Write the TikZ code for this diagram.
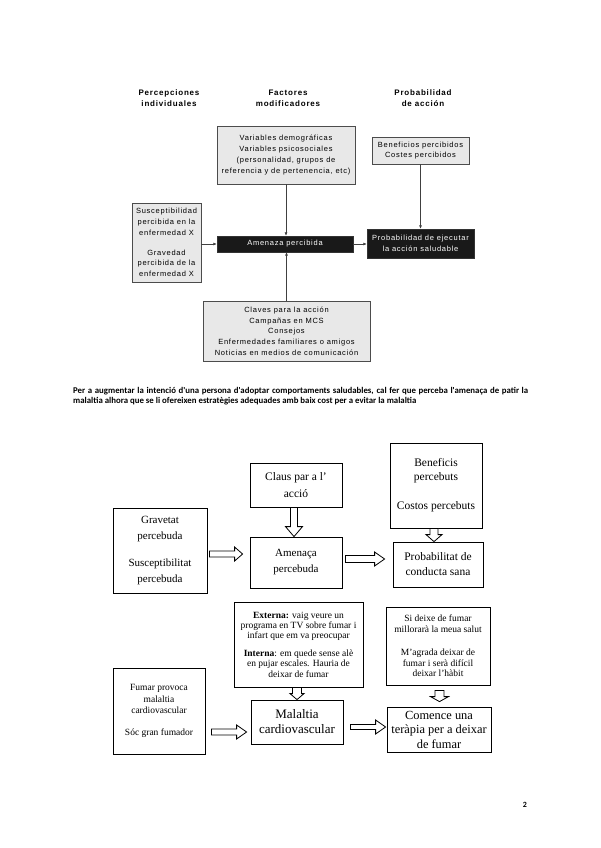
\documentclass[tikz,border=0pt]{standalone}
\usepackage{fontspec}
\setmainfont{Liberation Serif}
\newfontfamily\arialls[LetterSpace=10]{Liberation Sans}
\newfontfamily\calib{Carlito}
\usetikzlibrary{shadows,calc,arrows.meta}
\tikzset{
  topbox/.style={draw=black!70, fill=black!9, line width=0.6pt, inner sep=0pt, align=center,
     drop shadow={shadow xshift=1.2pt, shadow yshift=-1.2pt, fill=black!55, opacity=1},
     font=\arialls\fontsize{7.5}{10.7}\selectfont},
  blackbox/.style={draw=black!80, fill=black!90, text=white, inner sep=0pt, align=center,
     font=\arialls\fontsize{7.5}{10.7}\selectfont},
  header/.style={align=center, font=\arialls\bfseries\fontsize{8}{11}\selectfont},
  thinarrow/.style={draw=black!75, line width=0.6pt, -{Latex[length=3.5pt,width=3pt]}},
  wbox/.style={draw=black, line width=0.8pt, fill=white, inner sep=0pt, align=center},
  hollow/.style={draw=black, line width=0.8pt, fill=white, line join=miter},
  para/.style={anchor=base west, inner sep=0pt, font=\calib\bfseries\fontsize{8.8}{10}\selectfont}
}
% horizontal hollow arrow: start, end(x), shaft half, head half, head length
\newcommand{\harr}[5]{%
  \draw[hollow] let \p1=#1, \p2=#2 in
    (\x1,\y1+#3pt) -- (\x2-#5pt,\y1+#3pt) -- (\x2-#5pt,\y1+#4pt) -- (\x2,\y1)
    -- (\x2-#5pt,\y1-#4pt) -- (\x2-#5pt,\y1-#3pt) -- (\x1,\y1-#3pt) -- cycle;}
% vertical (downwards) hollow arrow: start, end(y), shaft half, head half, head length
\newcommand{\varr}[5]{%
  \draw[hollow] let \p1=#1, \p2=#2 in
    (\x1-#3pt,\y1) -- (\x1-#3pt,\y2+#5pt) -- (\x1-#4pt,\y2+#5pt) -- (\x1,\y2)
    -- (\x1+#4pt,\y2+#5pt) -- (\x1+#3pt,\y2+#5pt) -- (\x1+#3pt,\y1) -- cycle;}
\begin{document}
\begin{tikzpicture}[x=1pt,y=-1pt]
\useasboundingbox (0,0) rectangle (600,848);
\fill[white] (0,0) rectangle (600,848);

% ---------- top diagram ----------
\node[header] (h1) at (169,98.5) {Percepciones\\individuales};
\node[header] (h2) at (288,98.5) {Factores\\modificadores};
\node[header] (h3) at (423,98.5) {Probabilidad\\de acción};

\node[topbox, minimum width=138, minimum height=58] (var) at (286,155)
  {Variables demográficas\\Variables psicosociales\\(personalidad, grupos de\\referencia y de pertenencia, etc)};
\node[topbox, minimum width=97, minimum height=27] (benT) at (420.5,150.5)
  {Beneficios percibidos\\Costes percibidos};
\node[topbox, minimum width=69, minimum height=79] (susc) at (166.5,242.5)
  {Susceptibilidad\\percibida en la\\enfermedad X\\[9pt]Gravedad\\percibida de la\\enfermedad X};
\node[blackbox, minimum width=136, minimum height=16] (amenT) at (285,244) {Amenaza percibida};
\node[blackbox, minimum width=107, minimum height=29] (probT) at (420.5,243.5)
  {Probabilidad de ejecutar\\la acción saludable};
\node[topbox, minimum width=167, minimum height=60] (clav) at (286.5,331)
  {Claves para la acción\\Campañas en MCS\\Consejos\\Enfermedades familiares o amigos\\Noticias en medios de comunicación};

\draw[thinarrow] (var.south) -- (var.south |- amenT.north);
\draw[thinarrow] (benT.south) -- (benT.south |- probT.north);
\draw[thinarrow] (susc.east |- amenT.west) -- (amenT.west);
\draw[thinarrow] (amenT.east) -- (amenT.east -| probT.west);
\draw[thinarrow] (clav.north) -- (clav.north |- amenT.south);

% ---------- paragraph ----------
\node[para] (p1) at (73,393)
  {\makebox[455pt][s]{Per a augmentar la intenció d'una persona d'adoptar comportaments saludables, cal fer que perceba l'amenaça de patir la}};
\node[para] (p2) at (73,403.5)
  {malaltia alhora que se li ofereixen estratègies adequades amb baix cost per a evitar la malaltia};

% ---------- bottom diagram 1 ----------
\node[wbox, minimum width=92, minimum height=44, font=\fontsize{11.5}{17}\selectfont] (claus) at (296,485)
  {Claus par a l’\\acció};
\node[wbox, minimum width=92, minimum height=85, font=\fontsize{11.5}{14}\selectfont] (benef) at (436,485.5)
  {Beneficis\\percebuts\\[15pt]Costos percebuts};
\node[wbox, minimum width=94, minimum height=85, font=\fontsize{11}{16}\selectfont] (grav) at (160,550.5)
  {Gravetat\\percebuda\\[11pt]Susceptibilitat\\percebuda};
\node[wbox, minimum width=92, minimum height=51, font=\fontsize{11}{16}\selectfont] (amen) at (296,562.5)
  {Amenaça\\percebuda};
\node[wbox, minimum width=90, minimum height=45, font=\fontsize{11.5}{15}\selectfont] (prob) at (438,564.5)
  {Probabilitat de\\conducta sana};

\harr{($(grav.east)+(2,3.5)$)}{([xshift=-7pt]amen.west)}{3}{7}{8}
\harr{($(amen.east)+(3,-3.5)$)}{([xshift=-8pt]prob.west)}{3.5}{7}{10}
\varr{($(claus.south)+(-2,0)$)}{(amen.north)}{3.5}{8.5}{10}
\varr{($(benef.south)+(-2,0)$)}{(prob.north)}{4}{8}{7}

% ---------- bottom diagram 2 ----------
\node[wbox, minimum width=129, minimum height=85, font=\fontsize{9.5}{10.2}\selectfont] (ext) at (298.5,644.5)
  {\textbf{Externa:} vaig veure un\\programa en TV sobre fumar i\\infart que em va preocupar\\[8pt]\textbf{Interna}: em quede sense alè\\en pujar escales. Hauria de\\deixar de fumar};
\node[wbox, minimum width=104, minimum height=78, font=\fontsize{9.5}{10.5}\selectfont] (siD) at (438,646)
  {Si deixe de fumar\\millorarà la meua salut\\[13pt]M'agrada deixar de\\fumar i serà difícil\\deixar l'hàbit};
\node[wbox, minimum width=92, minimum height=86, font=\fontsize{9.5}{11.5}\selectfont] (fumar) at (159,711)
  {Fumar provoca\\malaltia\\cardiovascular\\[10.5pt]Sóc gran fumador};
\node[wbox, minimum width=92, minimum height=44, font=\fontsize{13}{15}\selectfont] (mal) at (297,722)
  {Malaltia\\cardiovascular};
\node[wbox, minimum width=104, minimum height=45, font=\fontsize{12.4}{14.5}\selectfont] (com) at (439,729.5)
  {Comence una\\teràpia per a deixar\\de fumar};

\varr{($(ext.south)+(-1.5,0)$)}{(mal.north)}{4.5}{7}{6}
\varr{($(siD.south)+(1.5,5)$)}{($(com.north)+(0,-5)$)}{4.5}{9}{5}
\harr{($(fumar.east)+(6,21)$)}{([xshift=-4pt]mal.west)}{3}{7}{10}
\harr{($(mal.east)+(7,5)$)}{([xshift=-1pt]com.west)}{2.5}{7}{10}

% page number
\node[font=\calib\bfseries\fontsize{8}{10}\selectfont] (pg) at (525,805) {2};
\end{tikzpicture}
\end{document}
